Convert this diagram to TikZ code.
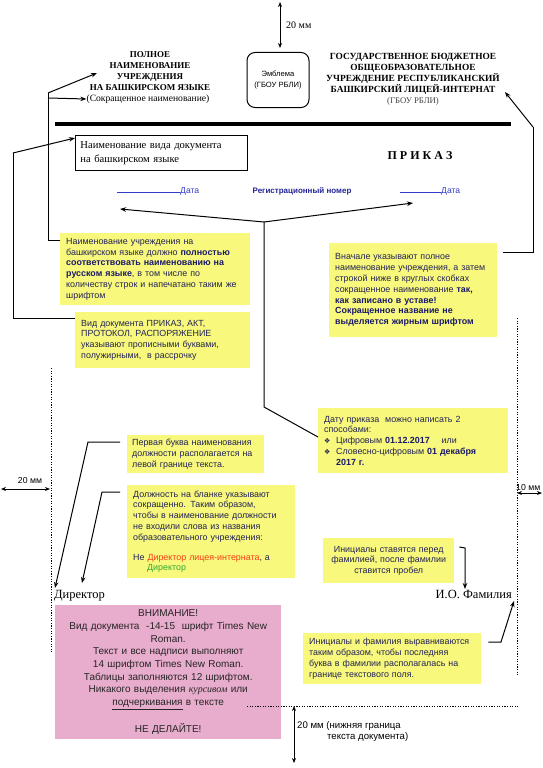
\documentclass[tikz,border=0pt]{standalone}
\usepackage{fontspec}
\setmainfont{Liberation Serif}
\setsansfont{Liberation Sans}
\newfontfamily\djv{DejaVu Sans}
\usetikzlibrary{arrows.meta,calc}
\definecolor{ylw}{RGB}{248,248,125}
\definecolor{pnk}{RGB}{232,172,204}
\definecolor{navy}{RGB}{35,35,85}
\definecolor{bnavy}{RGB}{25,25,105}
\definecolor{dblue}{RGB}{50,60,200}
\definecolor{regblue}{RGB}{35,35,150}
\definecolor{rd}{RGB}{250,60,20}
\definecolor{gr}{RGB}{50,170,50}
\newcommand\bnv[1]{\textbf{\color{bnavy}#1}}
\begin{document}
\begin{tikzpicture}[x=1pt,y=-1pt,
 ybox/.style={fill=ylw, anchor=north west, inner xsep=6pt, inner ysep=3pt, align=left,
   font=\sffamily\fontsize{8.9}{10.8}\selectfont, text=navy},
 ln/.style={line width=1pt, black},
 arr/.style={line width=1pt, black, -{Stealth[length=6pt,width=4.5pt]}},
 dimarr/.style={line width=1pt, black, {Stealth[length=5pt,width=4pt]}-{Stealth[length=5pt,width=4pt]}},
 dotln/.style={line width=1pt, black, dash pattern=on 1.2pt off 1.4pt},
 ttl/.style={font=\bfseries\fontsize{9}{10.8}\selectfont, align=center, inner sep=0pt},
 smsans/.style={font=\sffamily\fontsize{8.7}{10.5}\selectfont, inner sep=0pt},
]
\useasboundingbox (0,0) rectangle (543,768);

% ---- header ----
\node[ttl] (lt) at (150,71) {ПОЛНОЕ\\НАИМЕНОВАНИЕ\\УЧРЕЖДЕНИЯ\\НА БАШКИРСКОМ ЯЗЫКЕ};
\node[font=\fontsize{9.6}{11}\selectfont, inner sep=0pt] (sokr) at (148,99) {(Сокращенное наименование)};
\node[ttl, font=\bfseries\fontsize{9.4}{10.9}\selectfont] (rt) at (413,74) {ГОСУДАРСТВЕННОЕ БЮДЖЕТНОЕ\\ОБЩЕОБРАЗОВАТЕЛЬНОЕ\\УЧРЕЖДЕНИЕ РЕСПУБЛИКАНСКИЙ\\БАШКИРСКИЙ ЛИЦЕЙ-ИНТЕРНАТ};
\node[font=\fontsize{8.7}{10}\selectfont, text=black!75, inner sep=0pt] (rs) at (413,101) {(ГБОУ РБЛИ)};
\node[draw, rounded corners=8pt, line width=1pt, minimum width=62pt, minimum height=55pt,
  font=\sffamily\fontsize{7.6}{10}\selectfont, align=center, inner sep=1pt] (emb) at (278,80) {Эмблема\\(ГБОУ РБЛИ)};
\coordinate (ttop) at (280,2);
\coordinate (tbot) at (280,48);
\draw[dimarr] (ttop) -- (tbot);
\node[font=\fontsize{10}{12}\selectfont, anchor=west, inner sep=0pt] (t20) at (286,25) {20 мм};

\draw[line width=4pt] (55,124) -- (511,124);

% ---- document head ----
\node[draw, line width=0.8pt, anchor=north west, minimum width=172pt, minimum height=35pt,
  text width=162pt, inner xsep=5pt, align=left, font=\fontsize{10.6}{14}\selectfont] (vid) at (75,135)
  {Наименование вида документа\\на башкирском языке};
\node[font=\bfseries\fontsize{12}{14}\selectfont] (prk) at (420,156) {П Р И К А З};
\node[font=\sffamily\fontsize{8.6}{10}\selectfont, text=dblue, anchor=base west, inner sep=0pt] (d1) at (117,193) {\rule{63pt}{0.6pt}Дата};
\node[font=\sffamily\fontsize{8.6}{10}\selectfont, text=dblue, anchor=base west, inner sep=0pt] (d2) at (400,193) {\rule{41pt}{0.6pt}Дата};
\node[font=\sffamily\bfseries\fontsize{8}{10}\selectfont, text=regblue, inner sep=0pt] (reg) at (302,191) {Регистрационный номер};

% ---- yellow boxes ----
\node[ybox, text width=178pt, minimum height=72pt] (b1) at (60,233)
 {Наименование учреждения на\\ башкирском языке должно \bnv{полностью}\\ \bnv{соответствовать наименованию на}\\ \bnv{русском языке}, в том числе по\\ количеству строк и напечатано таким же\\ шрифтом};
\node[ybox, text width=163pt, minimum height=56pt] (b2) at (75,312)
 {Вид документа ПРИКАЗ, АКТ,\\ ПРОТОКОЛ, РАСПОРЯЖЕНИЕ\\ указывают прописными буквами,\\ полужирными,\ \ в рассрочку};
\node[ybox, text width=156pt, minimum height=94pt] (rb) at (329,243)
 {Вначале указывают полное\\ наименование учреждения, а затем\\ строкой ниже в круглых скобках\\ сокращенное наименование \bnv{так,}\\ \bnv{как записано в уставе!}\\ \bnv{Сокращенное название не}\\ \bnv{выделяется жирным шрифтом}\\[8pt]};
\node[ybox, text width=178pt, minimum height=65pt] (db) at (318,408)
 {Дату приказа\ \ можно написать 2\\ способами:\\
  \makebox[12pt][l]{\djv\fontsize{7}{8}\selectfont ❖}Цифровым \bnv{01.12.2017}\quad\ или\\
  \makebox[12pt][l]{\djv\fontsize{7}{8}\selectfont ❖}Словесно-цифровым \bnv{01 декабря}\\
  \hspace*{12pt}\bnv{2017 г.}};
\node[ybox, inner xsep=5pt, text width=127pt, minimum height=38pt] (pb) at (127,435)
 {Первая буква наименования\\ должности располагается на\\ левой границе текста.};
\node[ybox, text width=156pt, minimum height=93pt] (dl) at (127,485)
 {Должность на бланке указывают\\ сокращенно. Таким образом,\\ чтобы в наименование должности\\ не входили слова из названия\\ образовательного учреждения:\\[9pt]
  Не {\color{rd}Директор лицея-интерната}, а\\ \hspace*{14pt}{\color{gr}Директор}};
\node[ybox, text width=119pt, minimum height=45pt, align=center] (in1) at (323,538)
 {Инициалы ставятся перед\\ фамилией, после фамилии\\ ставится пробел};
\node[ybox, text width=166pt, minimum height=51pt] (in2) at (303,633)
 {Инициалы и фамилия выравниваются\\ таким образом, чтобы последняя\\ буква в фамилии располагалась на\\ границе текстового поля.};

% ---- signature ----
\node[font=\fontsize{12.5}{14}\selectfont, anchor=base west, inner sep=0pt] (dir) at (54,598) {Директор};
\node[font=\fontsize{12.5}{14}\selectfont, anchor=base east, inner sep=0pt] (fio) at (512,598) {И.О. Фамилия};

% ---- pink box ----
\node[fill=pnk, anchor=north west, minimum width=226pt, minimum height=134pt, text width=214pt,
  align=center, font=\sffamily\fontsize{10}{12.7}\selectfont, text=black!85] (pk) at (55,605)
 {ВНИМАНИЕ!\\ Вид документа\ \ -14-15\ \ шрифт Times New\\ Roman.\\ Текст и все надписи выполняют\\
  14 шрифтом Times New Roman.\\ Таблицы заполняются 12 шрифтом.\\
  Никакого выделения {\rmfamily\itshape курсивом} или\\ \underline{подчеркивания} в тексте\\[12.7pt] НЕ ДЕЛАЙТЕ!};

% ---- dotted margins ----
\draw[dotln] (51,368) -- (51,652);
\draw[dotln] (517,318) -- (517,675);
\draw[dotln] (247,706) -- (518,706);

% ---- margin dimensions ----
\coordinate (lm1) at (1,489);
\coordinate (lm2) at (50,489);
\draw[dimarr] (lm1) -- (lm2);
\node[smsans, anchor=base] (l20) at (30,483) {20 мм};
\coordinate (rm1) at (517,493);
\coordinate (rm2) at (542,493);
\draw[dimarr] (rm1) -- (rm2);
\node[smsans, anchor=base west] (r10) at (516,490) {10 мм};
\coordinate (bm1) at (294,706);
\coordinate (bm2) at (294,763);
\draw[dimarr] (bm1) -- (bm2);
\node[smsans, font=\sffamily\fontsize{9.6}{11}\selectfont, anchor=north west, align=left] (b20) at (297,721) {20 мм (нижняя граница\\\hspace*{30pt}текста документа)};

% ---- connectors ----
\coordinate (c1a) at (48,240);
\coordinate (c1b) at (48,93);
\coordinate (c1c) at (48,98);
\draw[ln] ([yshift=-7pt]b1.north west) -- (c1a) -- (c1b);
\draw[arr] (c1b) -- (97,73);
\draw[arr] (c1c) -- (sokr.west);

\coordinate (c2a) at (13,318);
\coordinate (c2b) at (13,153);
\draw[ln] ([yshift=-6pt]b2.north west) -- (c2a) -- (c2b);
\draw[arr] (c2b) -- ([yshift=-3pt]vid.north west);

\coordinate (rj) at (264,222);
\coordinate (rj2) at (264,407);
\draw[arr] (rj) -- (120,209);
\draw[arr] (rj) -- (413,203);
\draw[ln] (rj) -- (rj2) -- ([yshift=-29pt]db.north west);

\coordinate (c3a) at (533,252);
\coordinate (c3b) at (533,127);
\draw[ln] ([xshift=6pt,yshift=-9pt]rb.north east) -- (c3a) -- (c3b);
\draw[arr] (c3b) -- (505,92);

\coordinate (c4a) at (88,442);
\draw[arr] ([xshift=-7pt,yshift=-7pt]pb.north west) -- (c4a) -- (55,588);
\coordinate (c5a) at (102,492);
\draw[arr] ([xshift=-7pt,yshift=-7pt]dl.north west) -- (c5a) -- (82,583);

\coordinate (c6a) at (465,548);
\draw[arr] ([xshift=5pt,yshift=-9pt]in1.north east) -- (c6a) -- (465,589);
\coordinate (c7a) at (501,642);
\draw[arr] ([xshift=7pt,yshift=-9pt]in2.north east) -- (c7a) -- (514,601);
\end{tikzpicture}
\end{document}
